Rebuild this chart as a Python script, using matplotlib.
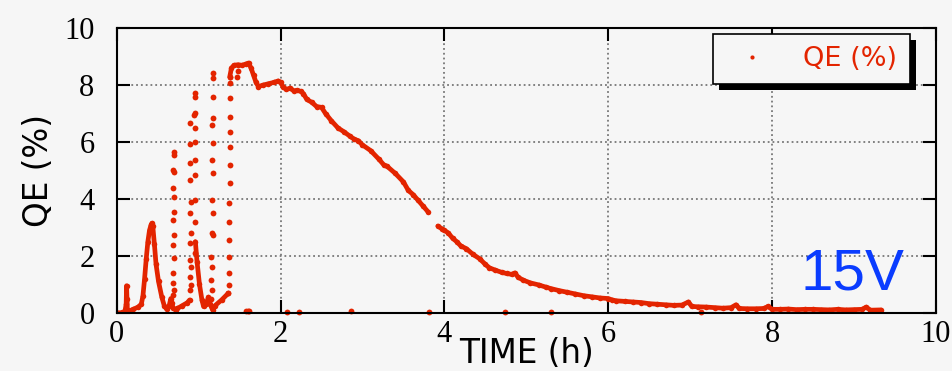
import matplotlib.pyplot as plt
from matplotlib.lines import Line2D
from matplotlib.patches import Rectangle

# dense (continuous) parts of the QE trace
t_start = [0.0, 0.05, 0.10, 0.115, 0.12, 0.125, 0.13, 0.14, 0.20, 0.26, 0.30, 0.32, 0.34,
           0.36, 0.38, 0.40, 0.42, 0.43, 0.44, 0.46, 0.48, 0.51, 0.55, 0.58, 0.61,
           0.64, 0.66, 0.67, 0.69, 0.72, 0.74, 0.80, 0.86, 0.89]
qe_start = [0.0, 0.0, 0.05, 0.3, 0.95, 0.5, 0.1, 0.05, 0.12, 0.2, 0.3, 0.6, 1.2,
            1.9, 2.5, 2.9, 3.1, 3.15, 3.05, 2.4, 1.7, 1.1, 0.55, 0.25, 0.12,
            0.25, 0.5, 0.35, 0.15, 0.1, 0.15, 0.25, 0.35, 0.45]

t_mid = [0.96, 0.98, 1.01, 1.04, 1.06, 1.09, 1.12, 1.14, 1.17, 1.20, 1.28, 1.36]
qe_mid = [2.5, 1.8, 1.0, 0.45, 0.22, 0.3, 0.55, 0.3, 0.1, 0.25, 0.45, 0.68]

t_main = [1.38, 1.40, 1.43, 1.48, 1.53, 1.58, 1.61, 1.64, 1.67, 1.70, 1.73, 1.78, 1.85,
          1.92, 1.97, 2.00, 2.03, 2.07, 2.12, 2.16, 2.20, 2.25, 2.28, 2.32, 2.38, 2.44,
          2.50, 2.55, 2.62, 2.70, 2.78, 2.85, 2.90, 2.95, 3.00, 3.10, 3.20, 3.26, 3.30,
          3.40, 3.50, 3.56, 3.62, 3.68, 3.74, 3.80]
qe_main = [8.3, 8.6, 8.7, 8.72, 8.7, 8.75, 8.78, 8.6, 8.35, 8.1, 7.95, 8.0, 8.05,
           8.1, 8.15, 8.1, 7.95, 7.85, 7.9, 7.8, 7.82, 7.78, 7.7, 7.5, 7.4, 7.25,
           7.22, 7.0, 6.75, 6.5, 6.35, 6.2, 6.1, 6.05, 5.9, 5.7, 5.4, 5.2, 5.15,
           4.9, 4.6, 4.3, 4.15, 3.95, 3.75, 3.55]

t_tail = [3.92, 3.97, 4.00, 4.05, 4.10, 4.15, 4.20, 4.27, 4.35, 4.43, 4.50, 4.55, 4.62,
          4.70, 4.76, 4.82, 4.86, 4.90, 4.96, 5.05, 5.15, 5.24, 5.30, 5.40, 5.50, 5.60,
          5.70, 5.80, 5.90, 6.00, 6.05, 6.10, 6.20, 6.30, 6.40, 6.50, 6.60, 6.70, 6.80,
          6.90, 6.98, 7.02, 7.10, 7.20, 7.30, 7.40, 7.50, 7.56, 7.60, 7.70, 7.80, 7.90,
          7.95, 8.00, 8.10, 8.20, 8.30, 8.40, 8.50, 8.60, 8.70, 8.80, 8.90, 9.00, 9.10,
          9.15, 9.20, 9.33]
qe_tail = [3.05, 2.95, 2.9, 2.8, 2.62, 2.5, 2.35, 2.25, 2.05, 1.9, 1.7, 1.58, 1.5,
           1.42, 1.38, 1.35, 1.4, 1.25, 1.15, 1.05, 0.98, 0.9, 0.85, 0.78, 0.72, 0.66,
           0.6, 0.56, 0.52, 0.5, 0.45, 0.42, 0.4, 0.38, 0.36, 0.32, 0.3, 0.28, 0.26,
           0.27, 0.38, 0.22, 0.21, 0.2, 0.18, 0.16, 0.18, 0.28, 0.15, 0.14, 0.14, 0.15,
           0.22, 0.12, 0.12, 0.13, 0.11, 0.12, 0.12, 0.11, 0.1, 0.12, 0.1, 0.11, 0.12,
           0.2, 0.09, 0.1]

# sparse dots (fast jumps)
t_dots = [0.70, 0.70, 0.69, 0.70, 0.69, 0.70, 0.70, 0.69, 0.70, 0.69, 0.70, 0.69, 0.69, 0.70, 0.69,
          0.95, 0.95, 0.95, 0.94, 0.90, 0.96, 0.95, 0.90, 0.95, 0.90, 0.96, 0.90, 0.96, 0.91,
          0.90, 0.96, 0.91, 0.90, 0.96, 0.90, 0.91, 0.90, 0.91, 0.90,
          1.17, 1.17, 1.17, 1.17, 1.16, 1.17, 1.16, 1.17, 1.16, 1.17, 1.16, 1.17, 1.15,
          1.16, 1.15, 1.16, 1.15,
          1.38, 1.38, 1.38, 1.38, 1.38, 1.38, 1.38, 1.38, 1.37, 1.37, 1.37, 1.37, 1.37,
          1.37, 1.36,
          1.47, 1.48,
          1.58, 1.60, 1.62, 2.08, 2.23, 2.86, 3.81, 4.74, 5.30, 7.13]
qe_dots = [5.66, 5.55, 5.02, 4.96, 4.37, 4.08, 3.55, 3.26, 2.73, 2.38, 1.91, 1.38, 1.03, 0.80, 0.62,
           7.71, 7.60, 7.01, 6.95, 6.66, 6.48, 6.01, 5.95, 5.37, 5.25, 4.84, 4.66, 3.96, 3.90,
           3.49, 3.20, 2.79, 2.44, 2.09, 1.86, 1.62, 1.27, 0.97, 0.80,
           8.42, 8.24, 7.60, 6.83, 6.60, 5.96, 5.37, 4.90, 3.96, 3.49, 2.79, 2.73, 1.97,
           1.62, 1.15, 0.80, 0.50,
           8.30, 8.07, 7.54, 6.89, 6.37, 5.84, 5.19, 4.55, 3.85, 3.20, 2.56, 1.97, 1.38,
           0.97, 0.68,
           8.3, 8.5,
           0.05, 0.05, 0.05, 0.02, 0.03, 0.05, 0.02, 0.02, 0.02, 0.02]

red = '#e32400'
bg = '#f6f6f6'

plt.rcParams['font.family'] = ['DejaVu Sans']

fig = plt.figure(figsize=(9.53, 3.71), dpi=100, facecolor=bg)
ax = fig.add_axes([0.1225, 0.157, 0.8595, 0.7667])
ax.set_facecolor(bg)

for t, q in [(t_start, qe_start), (t_mid, qe_mid), (t_main, qe_main), (t_tail, qe_tail)]:
    ax.plot(t, q, '-o', color=red, lw=3.4, ms=4.0, mew=0, solid_capstyle='round')
ax.plot(t_dots, qe_dots, 'o', color=red, ms=4.2, mew=0, clip_on=False)

ax.set_xlim(0, 10)
ax.set_ylim(0, 10)
ax.set_xticks([0, 2, 4, 6, 8, 10])
ax.set_yticks([0, 2, 4, 6, 8, 10])
ax.grid(True, color='#777777', linestyle=':', linewidth=1.3)
ax.tick_params(direction='in', length=9.5, width=1.5, top=True, right=True,
               labelsize=22, pad=5)
ax.tick_params(axis='y', pad=16)
for lab in ax.get_xticklabels() + ax.get_yticklabels():
    lab.set_family('Liberation Serif')
for s in ax.spines.values():
    s.set_linewidth(1.5)

ax.set_xlabel('TIME (h)', fontsize=23.5)
ax.set_ylabel('QE (%)', fontsize=23.5)
ax.xaxis.set_label_coords(0.5, -0.085)
ax.yaxis.set_label_coords(-0.075, 0.5)

handle = Line2D([], [], color=red, marker='o', ms=3, mew=0, ls='none')
leg = ax.legend([handle], ['QE (%)'], loc='upper right', bbox_to_anchor=(0.968, 0.98),
                fontsize=19.5, frameon=True, fancybox=False, borderaxespad=0,
                handlelength=2.0, handletextpad=0.9, borderpad=0.45)
leg.set_zorder(6)
frame = leg.get_frame()
frame.set_edgecolor('black')
frame.set_linewidth(1.2)
frame.set_facecolor(bg)
frame.set_alpha(1)
for txt in leg.get_texts():
    txt.set_color(red)

# hard black drop shadow behind the legend box
fig.canvas.draw()
bb = frame.get_window_extent().transformed(fig.transFigure.inverted())
dx, dy = 6 / 953, 6 / 371
ax.add_patch(Rectangle((bb.x0 + dx, bb.y0 - dy), bb.width, bb.height,
                       transform=fig.transFigure, facecolor='black',
                       edgecolor='none', zorder=5.5, clip_on=False))

ax.text(9.61, 0.8, '15V', color='#0a3cff', fontsize=42, ha='right', va='baseline',
        family='Liberation Sans')

plt.savefig('out.png', dpi=100, facecolor=bg)
